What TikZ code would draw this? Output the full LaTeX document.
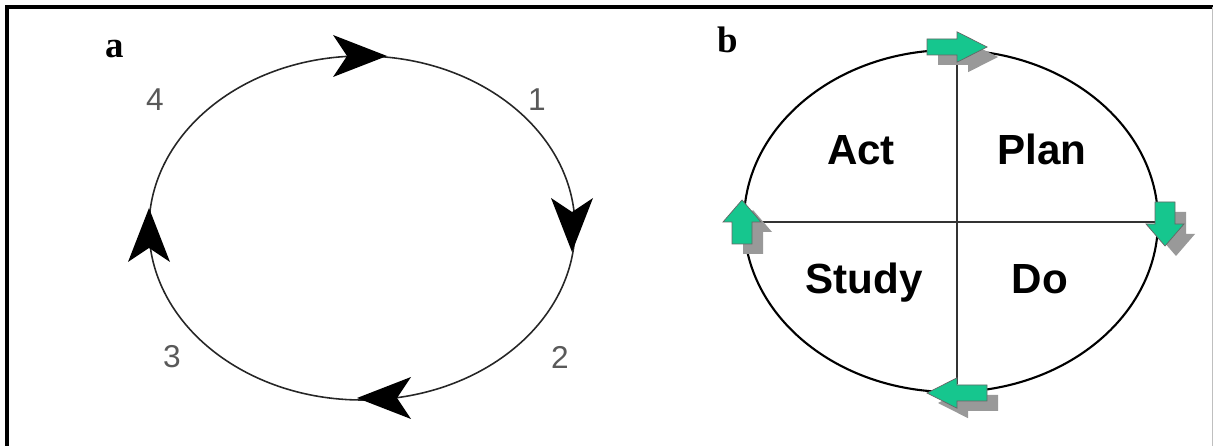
\documentclass[tikz,border=0pt]{standalone}
\usepackage{fontspec}
\setmainfont{Liberation Serif}
\newfontfamily\arialfont{Liberation Sans}
\usepackage{tikz}
\usetikzlibrary{calc,positioning}
\definecolor{pdsagreen}{RGB}{22,198,142}
\tikzset{
  frame/.style={line width=1.8pt, black},
  cycle/.style={draw=black!85, line width=0.9pt},
  wheel/.style={draw=black, line width=1.2pt},
  quarter/.style={draw=black!80, line width=1.1pt},
  cyclehead/.style={fill=black},
  turnarrow/.style={fill=pdsagreen, draw=black!60, line width=0.4pt},
  turnshadow/.style={fill=gray!80},
  stepno/.style={font=\arialfont\fontsize{18}{20}\selectfont, text=black!65},
  phase/.style={font=\arialfont\bfseries\fontsize{24}{28}\selectfont, anchor=base},
  panel/.style={font=\bfseries\fontsize{21}{24}\selectfont}
}

\begin{document}
\begin{tikzpicture}[x=0.02cm, y=0.02cm]
  \useasboundingbox (0,0) rectangle (1213,446);
  % frame
  \draw[frame] (7,0) -- (7,439) -- (1213,439);
  \draw[gray!50, line width=0.5pt] (1212,0) -- (1212,439);

  % (a) plain cycle
  \node[panel] (lbla) at (115,397) {a};
  \draw[cycle] (362,218) ellipse [x radius=213, y radius=172];
  \foreach \x/\y/\a in {359/390/0, 572/222/-90, 385/48/180, 149/210/90}{
    \begin{scope}[shift={(\x,\y)}, rotate=\a]
      \fill[cyclehead] (28,0) -- (-26,-21) -- (-12,0) -- (-26,21) -- cycle;
    \end{scope}
  }
  \node[stepno] (n1) at (537,346) {1};
  \node[stepno] (n2) at (560,89) {2};
  \node[stepno] (n3) at (172,89) {3};
  \node[stepno] (n4) at (155,346) {4};

  % (b) PDSA wheel
  \node[panel] (lblb) at (728,406) {b};
  \draw[wheel] (951,225) ellipse [x radius=207, y radius=171];
  \draw[quarter] (744,224) -- (1158,224);
  \draw[quarter] (957,396) -- (957,62);
  \node[phase] (act) at (861,281) {Act};
  \node[phase] (plan) at (1042,281) {Plan};
  \node[phase] (study) at (864,152) {Study};
  \node[phase] (do) at (1040,152) {Do};
  \foreach \x/\y/\a/\l/\w in {957/399/0/30/8, 1165/222/-90/22/10, 957/53/180/30/8, 742/224/90/22/10}{
    \begin{scope}[shift={(\x+11,\y-10)}, rotate=\a]
      \fill[turnshadow] (-\l,-\w) -- (0,-\w) -- (0,-1.9*\w) -- (\l,0) -- (0,1.9*\w) -- (0,\w) -- (-\l,\w) -- cycle;
    \end{scope}
    \begin{scope}[shift={(\x,\y)}, rotate=\a]
      \filldraw[turnarrow] (-\l,-\w) -- (0,-\w) -- (0,-1.9*\w) -- (\l,0) -- (0,1.9*\w) -- (0,\w) -- (-\l,\w) -- cycle;
    \end{scope}
  }
\end{tikzpicture}
\end{document}
